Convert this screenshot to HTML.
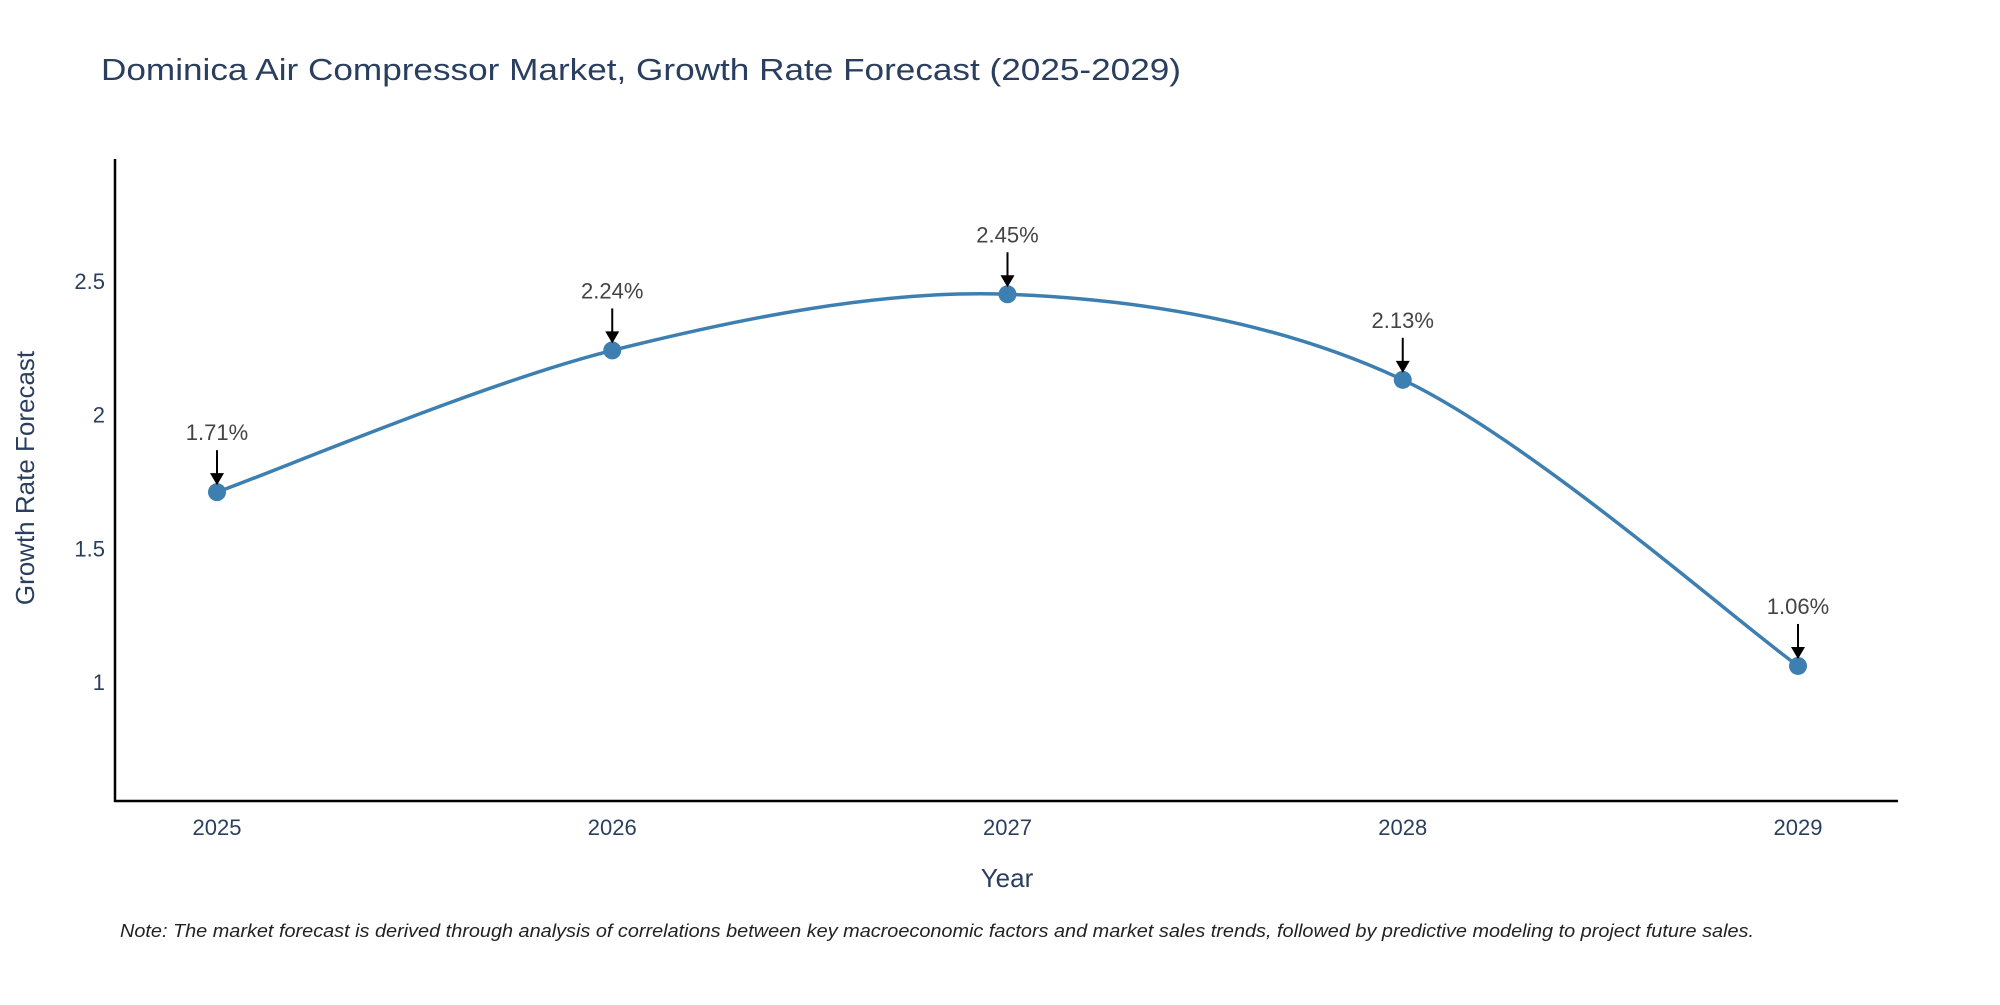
<!DOCTYPE html>
<html><head><meta charset="utf-8"><style>
body{margin:0;background:#fff;}
svg text{font-family:"Liberation Sans","DejaVu Sans",sans-serif;}
</style></head><body>
<svg id="chart" width="2000" height="1000" xmlns="http://www.w3.org/2000/svg">
<text x="101" y="80" font-size="31" fill="#2a3f5f" textLength="1080" lengthAdjust="spacingAndGlyphs">Dominica Air Compressor Market, Growth Rate Forecast (2025-2029)</text>
<g id="yticks"></g>
<g id="xticks"></g>
<line x1="115" y1="159" x2="115" y2="802" stroke="#000" stroke-width="2.5"/>
<line x1="114" y1="801" x2="1898" y2="801" stroke="#000" stroke-width="2.5"/>
<path id="line" fill="none" stroke="#3d7fb0" stroke-width="3.5"/>
<g id="points"></g>
<g id="annots"></g>
<text x="1007" y="887" font-size="26" fill="#2a3f5f" text-anchor="middle">Year</text>
<text transform="translate(34,478) rotate(-90)" font-size="26" fill="#2a3f5f" text-anchor="middle">Growth Rate Forecast</text>
<text x="120" y="937" font-size="18" font-style="italic" fill="#222" textLength="1634" lengthAdjust="spacingAndGlyphs">Note: The market forecast is derived through analysis of correlations between key macroeconomic factors and market sales trends, followed by predictive modeling to project future sales.</text>
</svg>
<script>
const years=[2025,2026,2027,2028,2029];
const values=[1.71,2.24,2.45,2.13,1.06];
const labels=["1.71%","2.24%","2.45%","2.13%","1.06%"];
const yTickVals=[1,1.5,2,2.5];
const yTickLabels=["1","1.5","2","2.5"];
const NS="http://www.w3.org/2000/svg";
const xS=v=>217+(v-2025)*395.25;
const yS=v=>682-(v-1)*267.4;
function mk(t,a,p){const e=document.createElementNS(NS,t);for(const k in a)e.setAttribute(k,a[k]);p.appendChild(e);return e;}
const yt=document.getElementById('yticks');
yTickVals.forEach((v,i)=>{const t=mk('text',{x:105,y:yS(v)+8,'font-size':22,fill:'#2a3f5f','text-anchor':'end'},yt);t.textContent=yTickLabels[i];

});
const xt=document.getElementById('xticks');
years.forEach(y=>{const t=mk('text',{x:xS(y),y:835,'font-size':22,fill:'#2a3f5f','text-anchor':'middle'},xt);t.textContent=y;

});
const P=years.map((y,i)=>[xS(y),yS(values[i])]);
let d=`M${P[0][0]},${P[0][1]}`;const s=0.16;
for(let i=0;i<P.length-1;i++){const p0=P[i-1]||P[i],p1=P[i],p2=P[i+1],p3=P[i+2]||P[i+1];
d+=` C${p1[0]+(p2[0]-p0[0])*s},${p1[1]+(p2[1]-p0[1])*s} ${p2[0]-(p3[0]-p1[0])*s},${p2[1]-(p3[1]-p1[1])*s} ${p2[0]},${p2[1]}`;}
document.getElementById('line').setAttribute('d',d);
const pg=document.getElementById('points'),ag=document.getElementById('annots');
P.forEach((p,i)=>{const c=mk('circle',{cx:p[0],cy:p[1],r:9,fill:'#3d7fb0'},pg);


const l=mk('line',{x1:p[0],y1:p[1]-42,x2:p[0],y2:p[1]-18,stroke:'#000','stroke-width':2},ag);


const h=mk('path',{d:`M${p[0]-7},${p[1]-19} L${p[0]+7},${p[1]-19} L${p[0]},${p[1]-7} Z`,fill:'#000'},ag);


const t=mk('text',{x:p[0],y:p[1]-52,'font-size':22,fill:'#444','text-anchor':'middle'},ag);t.textContent=labels[i];

});
</script>
</body></html>
